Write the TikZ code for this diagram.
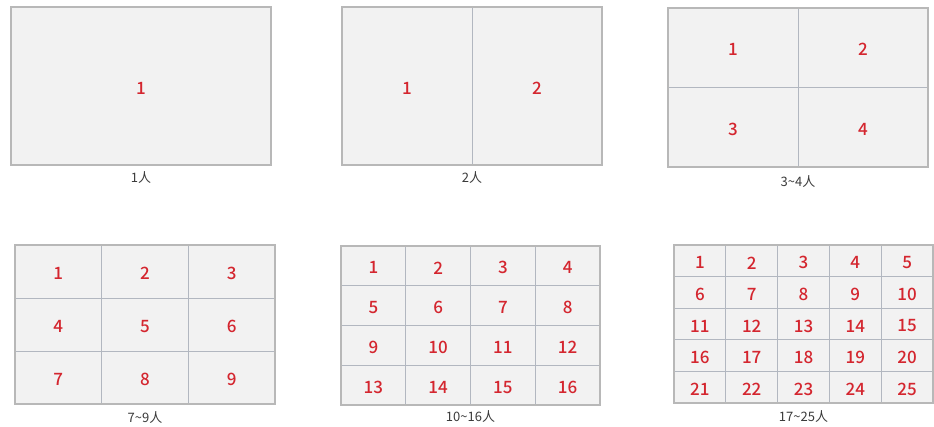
\documentclass[tikz,border=0pt]{standalone}
\usepackage{fontspec}
\newfontfamily\cjk{Noto Sans CJK SC}
\newfontfamily\cjkmid{Noto Sans CJK SC Medium}
\definecolor{cellbg}{HTML}{F2F2F2}
\definecolor{frame}{HTML}{B8B8B8}
\definecolor{splitline}{HTML}{B2B7C0}
\definecolor{seatred}{HTML}{D4262F}
\definecolor{captext}{HTML}{3A3A3A}

\begin{document}
\begin{tikzpicture}[
    x=1pt, y=-1pt,
    panel/.style={draw=frame, fill=cellbg, line width=1.3pt},
    split/.style={draw=splitline, line width=0.9pt},
    seat/.style={text=seatred, font=\cjkmid\fontsize{17}{17}\selectfont, inner sep=0pt},
    caption/.style={text=captext, font=\cjk\fontsize{13}{13}\selectfont, inner sep=0pt}
]
\useasboundingbox (0,0) rectangle (934,426);

% panel name / left / top / right / bottom / columns / rows / caption y / caption
\foreach \p/\xl/\yt/\xr/\yb/\nc/\nr/\ly/\lab in {
    one/11/7/271/165/1/1/178/{1人},
    two/342/7/602/165/2/1/178/{2人},
    four/668/8/928/167/2/2/182/{3\textasciitilde 4人},
    nine/15/245/275/404/3/3/418/{7\textasciitilde 9人},
    sixteen/341/246/600/405/4/4/417/{10\textasciitilde 16人},
    twentyfive/674/245/933/403/5/5/417/{17\textasciitilde 25人}} {
  \pgfmathsetmacro\cw{(\xr-\xl)/\nc}
  \pgfmathsetmacro\ch{(\yb-\yt)/\nr}
  \draw[panel] (\xl,\yt) rectangle (\xr,\yb);
  \foreach \i in {1,...,\nc} {
    \ifnum\i<\nc
      \draw[split] ({\xl+\i*\cw},\yt) -- ({\xl+\i*\cw},\yb);
    \fi
  }
  \foreach \j in {1,...,\nr} {
    \ifnum\j<\nr
      \draw[split] (\xl,{\yt+\j*\ch}) -- (\xr,{\yt+\j*\ch});
    \fi
  }
  \draw[panel, fill=none] (\xl,\yt) rectangle (\xr,\yb);
  % seat numbers
  \foreach \row in {1,...,\nr} {
    \foreach \col in {1,...,\nc} {
      \pgfmathtruncatemacro\k{(\row-1)*\nc+\col}
      \node[seat] (\p-\k) at ({\xl+(\col-0.5)*\cw},{\yt+(\row-0.5)*\ch+2}) {\k};
    }
  }
  \node[caption] (\p-cap) at ({(\xl+\xr)/2},\ly) {\lab};
}

\end{tikzpicture}
\end{document}
